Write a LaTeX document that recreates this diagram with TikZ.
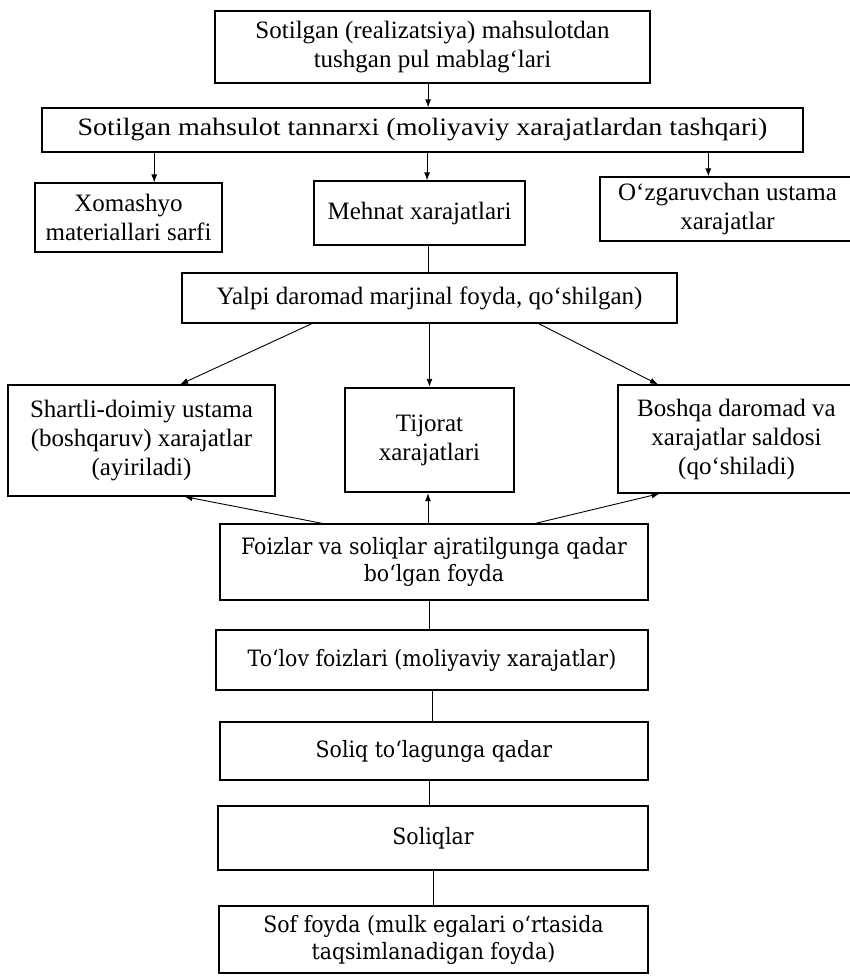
\documentclass[tikz,border=0pt]{standalone}
\usepackage{fontspec}
\setmainfont{Liberation Serif}
\newfontfamily\widefont[FakeStretch=1.12]{Liberation Serif}
\newfontfamily\lowfont[FakeStretch=0.91]{DejaVu Serif}
\usetikzlibrary{arrows.meta,calc}
\tikzset{
  bx/.style={draw, line width=1.2pt, inner sep=2pt, align=center, font=\fontsize{25}{29}\selectfont},
  lowbx/.style={bx, font=\lowfont\fontsize{22.5}{27}\selectfont},
  arr/.style={line width=0.9pt, -{Latex[length=8pt,width=6pt]}},
  ln/.style={line width=0.9pt}
}
\begin{document}
\begin{tikzpicture}[x=1pt,y=-1pt]
\useasboundingbox (0,0) rectangle (849,976);
\node[bx, minimum width=435pt, minimum height=72pt] (b1) at (432.5,47) {Sotilgan (realizatsiya) mahsulotdan\\tushgan pul mablag‘lari};
\node[bx, font=\widefont\fontsize{25}{29}\selectfont, minimum width=761pt, minimum height=44pt] (b2) at (422.5,130) {Sotilgan mahsulot tannarxi (moliyaviy xarajatlardan tashqari)};
\node[bx, minimum width=187pt, minimum height=69pt] (b3a) at (128.5,217.5) {Xomashyo\\materiallari sarfi};
\node[bx, minimum width=211pt, minimum height=64pt] (b3b) at (419.5,213) {Mehnat xarajatlari};
\node[bx, minimum width=255pt, minimum height=64pt] (b3c) at (727.5,209) {O‘zgaruvchan ustama\\xarajatlar};
\node[bx, minimum width=495pt, minimum height=50pt] (b4) at (429.5,298) {Yalpi daromad marjinal foyda, qo‘shilgan)};
\node[bx, minimum width=267pt, minimum height=111pt] (b5a) at (141.5,440.5) {Shartli-doimiy ustama\\(boshqaruv) xarajatlar\\(ayiriladi)};
\node[bx, line width=2.4pt, minimum width=169pt, minimum height=104pt] (b5b) at (429.5,440) {Tijorat\\xarajatlari};
\node[bx, minimum width=237pt, minimum height=108pt] (b5c) at (736.5,439) {Boshqa daromad va\\xarajatlar saldosi\\(qo‘shiladi)};
\node[lowbx, minimum width=428pt, minimum height=76pt] (b6) at (434,562) {Foizlar va soliqlar ajratilgunga qadar\\bo‘lgan foyda};
\node[lowbx, minimum width=432pt, minimum height=60pt] (b7) at (432,660) {To‘lov foizlari (moliyaviy xarajatlar)};
\node[lowbx, minimum width=428pt, minimum height=58pt] (b8) at (434,751) {Soliq to‘lagunga qadar};
\node[lowbx, minimum width=430pt, minimum height=64pt] (b9) at (433,838) {Soliqlar};
\node[lowbx, minimum width=429pt, minimum height=67pt] (b10) at (433.5,939.5) {Sof foyda (mulk egalari o‘rtasida\\taqsimlanadigan foyda)};

\coordinate (p1) at ($(b1.south west)!0.49!(b1.south east)$);
\draw[arr] (p1) -- (p1 |- b2.north);
\coordinate (p2a) at ($(b2.south west)!0.148!(b2.south east)$);
\coordinate (p2b) at ($(b2.south west)!0.506!(b2.south east)$);
\coordinate (p2c) at ($(b2.south west)!0.875!(b2.south east)$);
\draw[arr] (p2a) -- (p2a |- b3a.north);
\draw[arr] (p2b) -- (p2b |- b3b.north);
\draw[arr] (p2c) -- (p2c |- b3c.north);
\coordinate (p3) at ($(b3b.south west)!0.54!(b3b.south east)$);
\draw[ln] (p3) -- (p3 |- b4.north);
\draw[arr] ($(b4.south west)!0.263!(b4.south east)$) -- ($(b5a.north west)!0.644!(b5a.north east)$);
\coordinate (p4) at ($(b4.south west)!0.5!(b4.south east)$);
\draw[arr] (p4) -- (p4 |- b5b.north);
\draw[arr] ($(b4.south west)!0.72!(b4.south east)$) -- ($(b5c.north west)!0.17!(b5c.north east)$);
\draw[arr] ($(b6.north west)!0.24!(b6.north east)$) -- ($(b5a.south west)!0.66!(b5a.south east)$);
\coordinate (p6) at ($(b6.north west)!0.486!(b6.north east)$);
\draw[arr] (p6) -- (p6 |- b5b.south);
\draw[arr] ($(b6.north west)!0.736!(b6.north east)$) -- ($(b5c.south west)!0.177!(b5c.south east)$);
\coordinate (p7) at ($(b6.south west)!0.49!(b6.south east)$);
\draw[ln] (p7) -- (p7 |- b7.north);
\coordinate (p8) at ($(b7.south west)!0.50!(b7.south east)$);
\draw[ln] (p8) -- (p8 |- b8.north);
\coordinate (p9) at ($(b8.south west)!0.49!(b8.south east)$);
\draw[ln] (p9) -- (p9 |- b9.north);
\coordinate (p10) at ($(b9.south west)!0.50!(b9.south east)$);
\draw[ln] (p10) -- (p10 |- b10.north);
\end{tikzpicture}
\end{document}
